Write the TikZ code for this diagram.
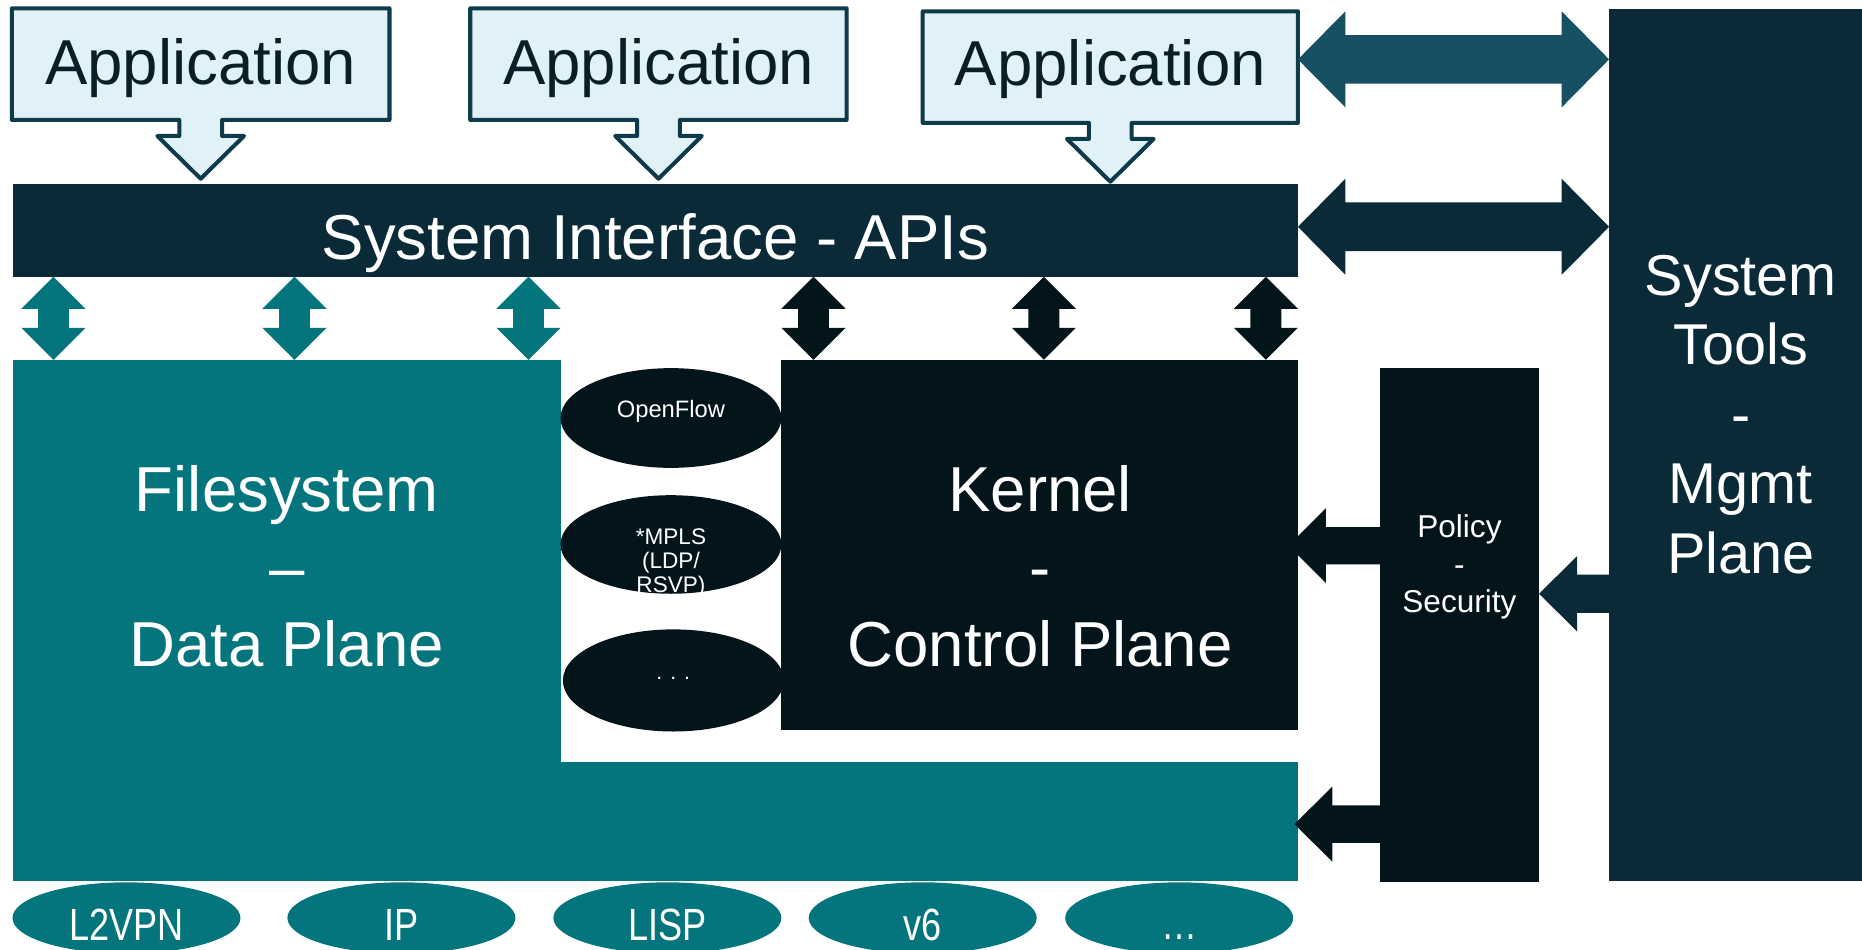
\documentclass[tikz,border=0pt]{standalone}
\usepackage{fontspec}
\setmainfont{Liberation Sans}
\newfontfamily\narrowsans[FakeStretch=0.8]{Liberation Sans}
\usetikzlibrary{calc,shapes.geometric,backgrounds}
\definecolor{appfill}{HTML}{E1F1F8}
\definecolor{appline}{HTML}{0E3B4A}
\definecolor{apptxt}{HTML}{0A1E27}
\definecolor{navy}{HTML}{0A2A38}
\definecolor{arrowblue}{HTML}{174F63}
\definecolor{tealc}{HTML}{04757C}
\definecolor{ink}{HTML}{03151B}
% double horizontal block arrow: style, left tip, right tip, head length, head half width, shaft half width
\newcommand{\DblH}[6]{\fill[#1] (#2) -- ($(#2)+(#4,#5)$) -- ($(#2)+(#4,#6)$) -- ($(#3)+(-#4,#6)$) -- ($(#3)+(-#4,#5)$) -- (#3) -- ($(#3)+(-#4,-#5)$) -- ($(#3)+(-#4,-#6)$) -- ($(#2)+(#4,-#6)$) -- ($(#2)+(#4,-#5)$) -- cycle;}
% double vertical block arrow: style, top tip, bottom tip, head length, head half width, shaft half width
\newcommand{\DblV}[6]{\fill[#1] (#2) -- ($(#2)+(#5,#4)$) -- ($(#2)+(#6,#4)$) -- ($(#3)+(#6,-#4)$) -- ($(#3)+(#5,-#4)$) -- (#3) -- ($(#3)+(-#5,-#4)$) -- ($(#3)+(-#6,-#4)$) -- ($(#2)+(-#6,#4)$) -- ($(#2)+(-#5,#4)$) -- cycle;}
% single left-pointing block arrow: style, tip, tail, head length, head half width, shaft half width
\newcommand{\SglL}[6]{\fill[#1] (#2) -- ($(#2)+(#4,-#5)$) -- ($(#2)+(#4,-#6)$) -- ($(#3)+(0,-#6)$) -- ($(#3)+(0,#6)$) -- ($(#2)+(#4,#6)$) -- ($(#2)+(#4,#5)$) -- cycle;}
% application callout outline
\newcommand{\Callout}[1]{\filldraw[appbox] (#1.north west) -- (#1.north east) -- (#1.south east) -- ($(#1.south)+(18,0)$) -- ++(0,13.5) -- ++(18.5,0) -- ($(#1.south)+(0,49.5)$) -- ($(#1.south)+(-36.5,13.5)$) -- ++(18.5,0) -- ++(0,-13.5) -- (#1.south west) -- cycle;}
\begin{document}
\begin{tikzpicture}[x=1pt,y=-1pt,
  blk/.style={inner sep=0pt, outer sep=0pt},
  txt/.style={inner sep=0pt, outer sep=0pt, align=center, text=white},
  big/.style={font=\fontsize{53.5}{65}\selectfont},
  appframe/.style={inner sep=0pt, outer sep=0pt, minimum height=94pt},
  apptext/.style={txt, text=apptxt, font=\fontsize{53.5}{60}\selectfont},
  appbox/.style={fill=appfill, draw=appline, line width=3.4pt, line join=round},
  oval/.style={ellipse, inner sep=0pt, outer sep=0pt, fill=ink, minimum width=186pt},
  botoval/.style={ellipse, inner sep=0pt, outer sep=0pt, fill=tealc, minimum width=192pt, minimum height=60pt},
  bottxt/.style={txt, font=\narrowsans\fontsize{38}{40}\selectfont}]
\clip (0,0) rectangle (1568,800);

% application callouts (frames, outlines drawn on the background layer)
\node[appframe, minimum width=318pt] (app1) at (169,54) {};
\node[appframe, minimum width=317pt] (app2) at (554.5,54) {};
\node[appframe, minimum width=316pt] (app3) at (935,56.5) {};
\begin{scope}[on background layer]
  \fill[white] (0,0) rectangle (1568,800);
  \Callout{app1}
  \Callout{app2}
  \Callout{app3}
\end{scope}
\node[apptext] (app1T) at ($(app1)+(0,3)$) {Application};
\node[apptext] (app2T) at ($(app2)+(0,3)$) {Application};
\node[apptext] (app3T) at ($(app3)+(0,2)$) {Application};

% main blocks
\node[blk, fill=navy, minimum width=1082pt, minimum height=78pt] (bar) at (552,194) {};
\node[txt, big] (barT) at (552,205) {System Interface - APIs};

\node[blk, fill=navy, minimum width=213pt, minimum height=734pt] (tools) at (1461.5,375) {};
\node[txt, font=\fontsize{48.5}{58.5}\selectfont] (toolsT) at (1466,349) {System\\Tools\\-\\Mgmt\\Plane};

\node[blk, fill=tealc, minimum width=461pt, minimum height=439pt] (fsup) at (241.5,522.5) {};
\node[blk, fill=tealc, minimum width=623pt, minimum height=100pt] (fslow) at (781.5,692) {};
\node[txt, big] (fsT) at (241.5,477) {Filesystem\\–\\Data Plane};

\node[blk, fill=ink, minimum width=435pt, minimum height=312pt] (kernel) at (875.5,459) {};
\node[txt, big] (kernelT) at (876,477) {Kernel\\-\\Control Plane};

\node[blk, fill=ink, minimum width=134pt, minimum height=433pt] (policy) at (1229,526.5) {};
\node[txt, font=\fontsize{26.6}{31.5}\selectfont] (policyT) at (1229,477.5) {Policy\\-\\Security};

% protocol ellipses
\node[oval, minimum height=84pt] (of) at (565,352) {};
\node[txt, font=\fontsize{20}{24}\selectfont] (ofT) at (565,346) {OpenFlow};
\node[oval, minimum height=83pt] (mpls) at (565,458.5) {};
\node[txt, font=\fontsize{19}{20.5}\selectfont] (mplsT) at (565,474) {*MPLS\\(LDP/\\RSVP)};
\node[oval, minimum height=86pt] (more) at (567,573) {};
\node[txt, font=\fontsize{18}{20}\selectfont] (moreT) at (567,571) {. . .};

% bottom ellipses
\node[botoval] (l2) at (106.5,773) {};
\node[bottxt] (l2T) at (106.5,779) {L2VPN};
\node[botoval] (ip) at (338,773) {};
\node[bottxt] (ipT) at (338,779) {IP};
\node[botoval] (lisp) at (562,773) {};
\node[bottxt] (lispT) at (562,779) {LISP};
\node[botoval] (v6) at (777,773) {};
\node[bottxt] (v6T) at (777,779) {v6};
\node[botoval] (etc) at (993,773) {};
\node[bottxt] (etcT) at (993,789) {…};

% horizontal double arrows to the tools block
\coordinate (uaL) at (app3.east |- 0,50);
\coordinate (uaR) at (tools.west |- uaL);
\DblH{arrowblue}{uaL}{uaR}{40}{40.5}{20.5}
\coordinate (laL) at (bar.east |- 0,191);
\coordinate (laR) at (tools.west |- laL);
\DblH{navy}{laL}{laR}{40}{40.5}{20.5}

% vertical double arrows: bar <-> filesystem
\foreach \i/\xx in {1/45,2/248,3/445}{
  \coordinate (tvT\i) at (\xx,0 |- bar.south);
  \coordinate (tvB\i) at (\xx,0 |- fsup.north);
  \DblV{tealc}{tvT\i}{tvB\i}{27}{27}{13}
}
% vertical double arrows: bar <-> kernel
\foreach \i/\xx in {1/685,2/879,3/1066}{
  \coordinate (kvT\i) at (\xx,0 |- bar.south);
  \coordinate (kvB\i) at (\xx,0 |- kernel.north);
  \DblV{ink}{kvT\i}{kvB\i}{27}{27}{13}
}

% policy arrows
\coordinate (pkTip) at ($(kernel.east |- 0,459.5)+(-8,0)$);
\coordinate (pkTail) at (policy.west |- pkTip);
\SglL{ink}{pkTip}{pkTail}{31.5}{31.5}{15.7}
\coordinate (pfTip) at ($(fslow.east |- 0,694)+(-3,0)$);
\coordinate (pfTail) at (policy.west |- pfTip);
\SglL{ink}{pfTip}{pfTail}{32}{31.6}{15.8}
\coordinate (tpTip) at (policy.east |- 0,500);
\coordinate (tpTail) at (tools.west |- tpTip);
\SglL{navy}{tpTip}{tpTail}{32}{31.6}{16.2}
\end{tikzpicture}
\end{document}
